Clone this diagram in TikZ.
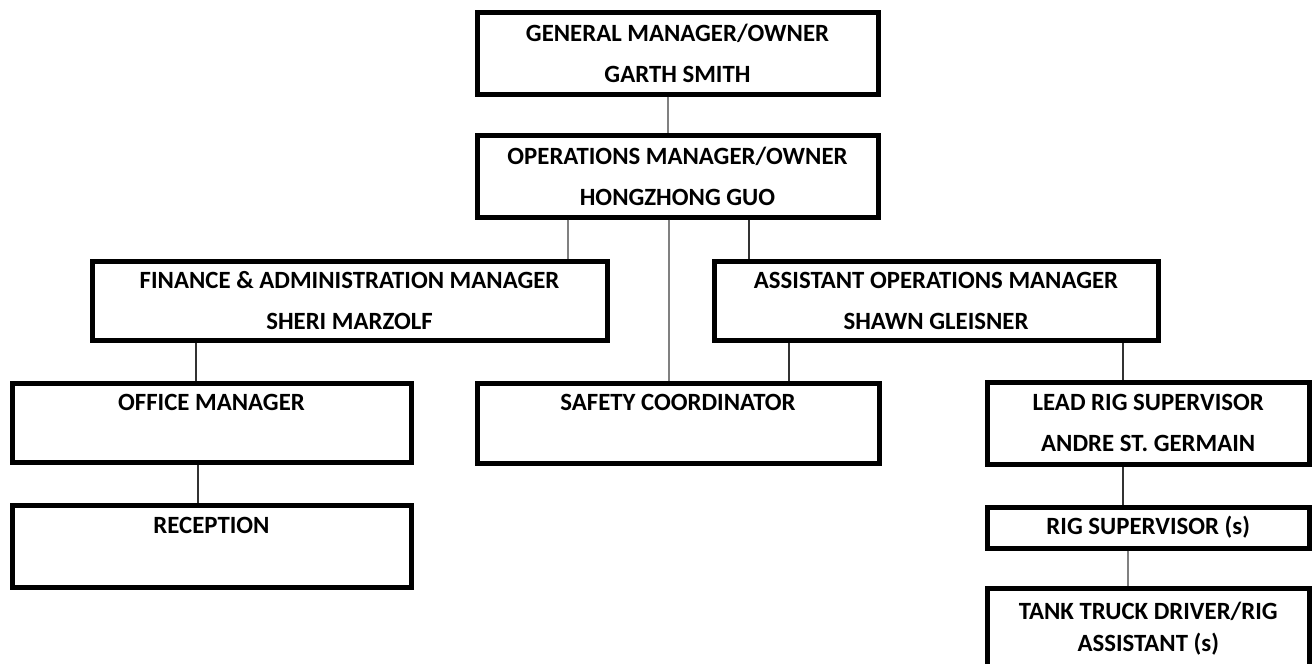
\documentclass[tikz,border=0pt]{standalone}
\usepackage{fontspec}
\setmainfont{Carlito}
\colorlet{BoxBorder}{black}
\colorlet{LinkLight}{black!50}
\colorlet{LinkDark}{black!80}

\begin{document}
\begin{tikzpicture}[x=1pt, y=-1pt,
    post/.style={draw=BoxBorder, line width=5pt, rectangle, inner sep=0pt,
        align=center, font=\fontsize{24.8}{41}\selectfont\bfseries},
    link/.style={draw=LinkLight, line width=2pt},
    darklink/.style={draw=LinkDark, line width=2pt}]

\useasboundingbox (0,0) rectangle (1312,664);

% top of the chart
\node[post, minimum width=401pt, minimum height=81.5pt] (GM) at (677.5,53.25)
    {GENERAL MANAGER/OWNER\\GARTH SMITH};
\node[post, minimum width=401pt, minimum height=82pt] (OPS) at (677.5,176)
    {OPERATIONS MANAGER/OWNER\\HONGZHONG GUO};

% second row
\node[post, minimum width=515pt, minimum height=79.5pt] (FIN) at (349.5,300.75)
    {FINANCE \& ADMINISTRATION MANAGER\\SHERI MARZOLF};
\node[post, minimum width=444pt, minimum height=79.5pt] (ASST) at (936,300.75)
    {ASSISTANT OPERATIONS MANAGER\\SHAWN GLEISNER};

% third row
\node[post, minimum width=399pt, minimum height=79pt] (OFFICE) at (211.5,422.5)
    {OFFICE MANAGER\\\mbox{}};
\node[post, minimum width=402pt, minimum height=80pt] (SAFETY) at (678,423)
    {SAFETY COORDINATOR\\\mbox{}};
\node[post, minimum width=322.5pt, minimum height=82.5pt] (LEAD) at (1148.25,423.25)
    {LEAD RIG SUPERVISOR\\ANDRE ST. GERMAIN};

% lower boxes
\node[post, minimum width=399pt, minimum height=82pt] (RECEPT) at (211.5,546)
    {RECEPTION\\\mbox{}};
\node[post, minimum width=322.5pt, minimum height=41pt] (RIG) at (1148.25,527.5)
    {RIG SUPERVISOR (s)};
\node[post, minimum width=322.5pt, minimum height=82pt] (TANK) at (1148.25,629)
    {TANK TRUCK DRIVER/RIG\\[-9pt]ASSISTANT (s)};

% reporting lines
\draw[link] (GM.south -| 668,0) -- (OPS.north -| 668,0);
\draw[link] (OPS.south -| 568,0) -- (FIN.north -| 568,0);
\draw[link] (OPS.south -| 669,0) -- (SAFETY.north -| 669,0);
\draw[darklink] (OPS.south -| 749,0) -- (ASST.north -| 749,0);
\draw[darklink] (FIN.south -| 196,0) -- (OFFICE.north -| 196,0);
\draw[darklink] (OFFICE.south -| 198,0) -- (RECEPT.north -| 198,0);
\draw[darklink] (ASST.south -| 789,0) -- (SAFETY.north -| 789,0);
\draw[darklink] (ASST.south -| 1123,0) -- (LEAD.north -| 1123,0);
\draw[darklink] (LEAD.south -| 1123,0) -- (RIG.north -| 1123,0);
\draw[link] (RIG.south -| 1128,0) -- (TANK.north -| 1128,0);

\end{tikzpicture}
\end{document}
